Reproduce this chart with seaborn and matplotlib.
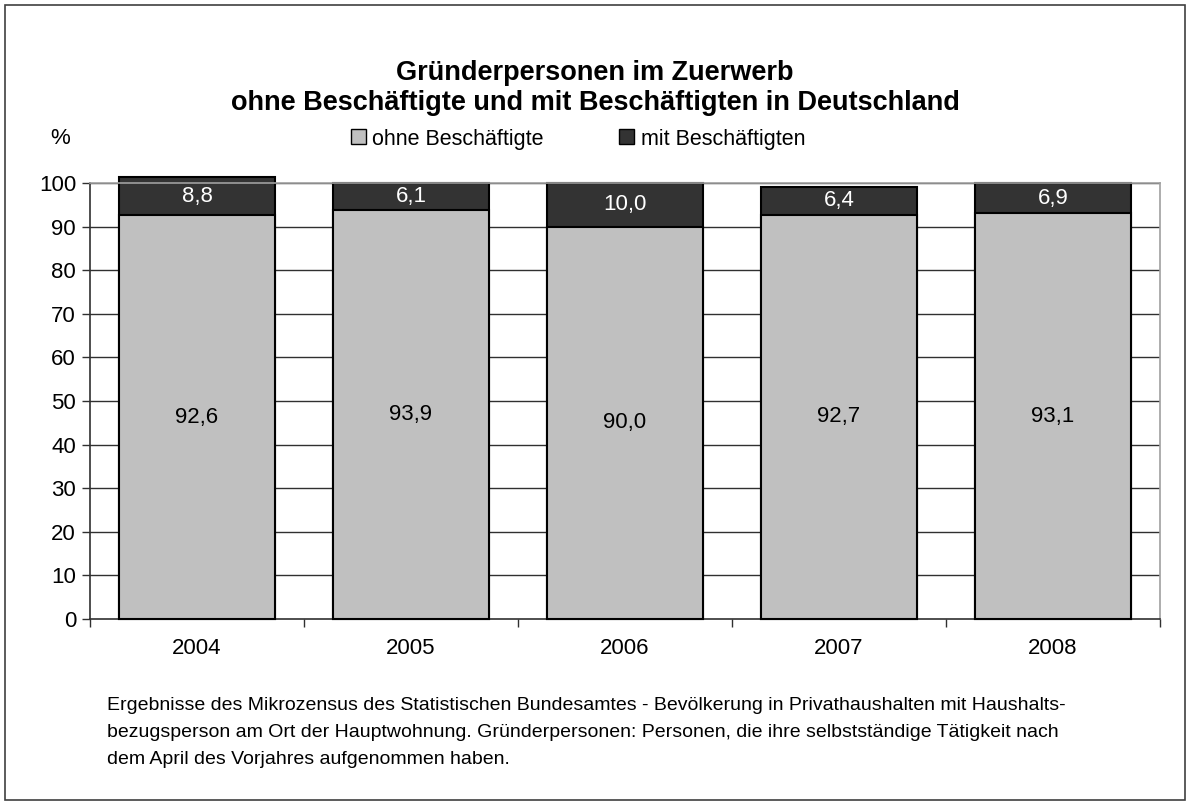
import matplotlib
matplotlib.use("Agg")
import matplotlib.pyplot as plt
import seaborn as sns
import pandas as pd
import numpy as np
from matplotlib.patches import Rectangle

years = ["2004", "2005", "2006", "2007", "2008"]
ohne = [92.6, 93.9, 90.0, 92.7, 93.1]
mit = [8.8, 6.1, 10.0, 6.4, 6.9]
ohne_labels = ["92,6", "93,9", "90,0", "92,7", "93,1"]
mit_labels = ["8,8", "6,1", "10,0", "6,4", "6,9"]
yticks = [0, 10, 20, 30, 40, 50, 60, 70, 80, 90, 100]

sns.set_theme(style="white")
plt.rcParams['font.family'] = ['Liberation Sans', 'DejaVu Sans']
plt.rcParams['text.color'] = 'black'
plt.rcParams['xtick.labelcolor'] = 'black'
plt.rcParams['ytick.labelcolor'] = 'black'

df = pd.DataFrame({"year": years, "ohne": ohne, "mit": mit})
df["total"] = df["ohne"] + df["mit"]

fig = plt.figure(figsize=(11.9, 8.05), dpi=100)
ax = fig.add_axes([90/1190, 1-619/805, (1160-90)/1190, (619-183)/805])

for y in yticks[1:]:
    ax.axhline(y, color="#303030", lw=1.0, zorder=0)

sns.barplot(data=df, x="year", y="total", color="#333333", width=0.725,
            edgecolor="black", linewidth=1.5, saturation=1, ax=ax, zorder=2)
sns.barplot(data=df, x="year", y="ohne", color="#c0c0c0", width=0.725,
            edgecolor="black", linewidth=1.5, saturation=1, ax=ax, zorder=3)
for p in ax.patches:
    p.set_clip_on(False)

for i in range(len(years)):
    ax.text(i, ohne[i] / 2, ohne_labels[i], ha="center", va="center",
            fontsize=16, color="black", zorder=5)
    ax.text(i, ohne[i] + mit[i] / 2, mit_labels[i], ha="center", va="center",
            fontsize=16, color="white", zorder=5)

ax.set_ylim(0, 100)
ax.set_xlim(-0.5, len(years) - 0.5)
ax.set_yticks(yticks)
ax.set_yticklabels([str(v) for v in yticks], fontsize=16)
ax.set_xticks(range(len(years)))
ax.set_xticklabels(years, fontsize=16)
ax.set_xticks(np.arange(-0.5, len(years)), minor=True)
ax.tick_params(axis="x", which="major", length=0, pad=14, labelcolor="black")
ax.tick_params(axis="x", which="minor", length=6, width=1, color="#303030", direction="out", bottom=True)
ax.tick_params(axis="y", length=6, width=1, color="#303030", direction="out", left=True, pad=4, labelcolor="black")
ax.set_xlabel("")
ax.set_ylabel("")

for s in ["left", "bottom"]:
    ax.spines[s].set_color("#303030")
    ax.spines[s].set_linewidth(1.2)
for s in ["top", "right"]:
    ax.spines[s].set_color("#a0a0a0")
    ax.spines[s].set_linewidth(1.2)
    ax.spines[s].set_visible(True)

fig.text(0.5, 1-73/805, "Gründerpersonen im Zuerwerb", ha="center", va="center",
         fontsize=19.5, fontweight="bold")
fig.text(0.5, 1-103/805, "ohne Beschäftigte und mit Beschäftigten in Deutschland",
         ha="center", va="center", fontsize=19.5, fontweight="bold")
fig.text(60/1190, 1-139/805, "%", ha="center", va="center", fontsize=16)

handles = [Rectangle((0, 0), 1, 1, facecolor="#c0c0c0", edgecolor="black", lw=1),
           Rectangle((0, 0), 1, 1, facecolor="#333333", edgecolor="black", lw=1)]
fig.legend(handles, ["ohne Beschäftigte", "mit Beschäftigten"], loc="center",
           bbox_to_anchor=(578/1190, 1-139/805), ncol=2, frameon=False,
           fontsize=15.5, handlelength=0.7, handleheight=0.7, handletextpad=0.3,
           columnspacing=3.5, labelcolor="black")

foot = ["Ergebnisse des Mikrozensus des Statistischen Bundesamtes - Bevölkerung in Privathaushalten mit Haushalts-",
        "bezugsperson am Ort der Hauptwohnung. Gründerpersonen: Personen, die ihre selbstständige Tätigkeit nach",
        "dem April des Vorjahres aufgenommen haben."]
for k, line in enumerate(foot):
    fig.text(107/1190, 1-(705 + 27*k)/805, line, ha="left", va="center", fontsize=14)

fig.patches.append(Rectangle((5/1190, 5/805), 1180/1190, 795/805, transform=fig.transFigure,
                             fill=False, edgecolor="#404040", lw=1.2))

fig.savefig("out.png", dpi=100)
